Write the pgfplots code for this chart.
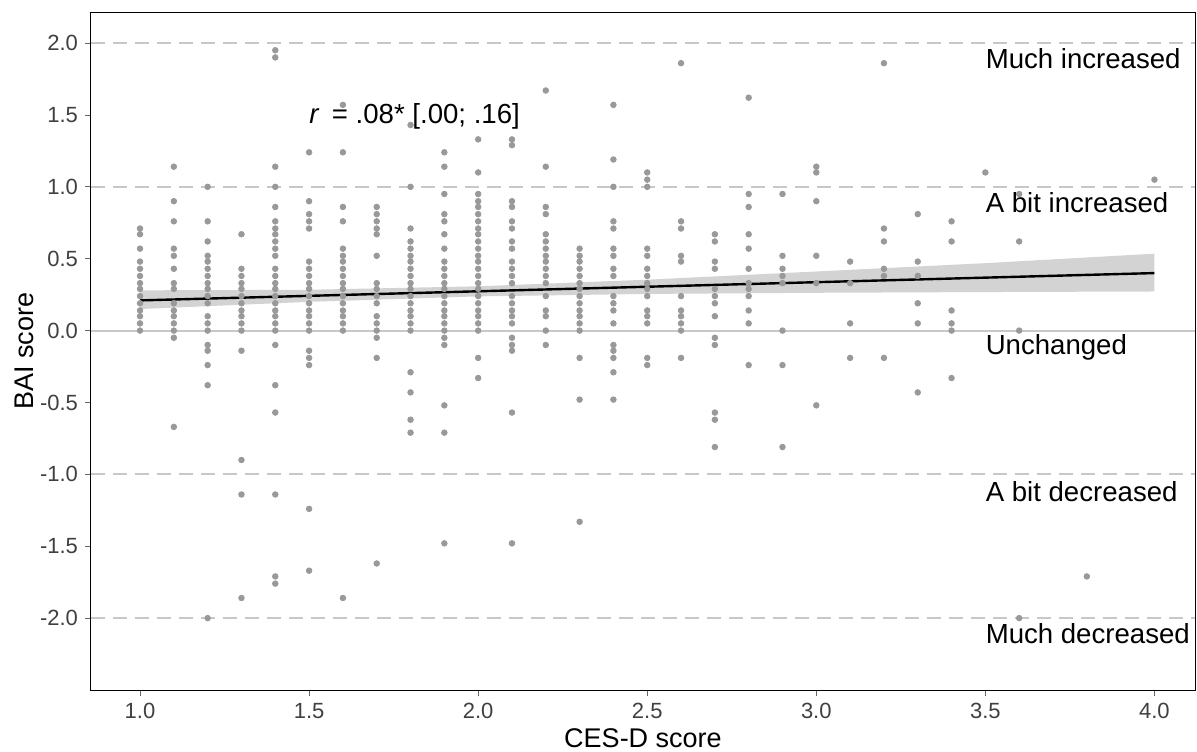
\documentclass[border=0pt]{standalone}
\usepackage{pgfplots}
\pgfplotsset{compat=1.18}
\usepackage{fontspec}
\setmainfont{Liberation Sans}
\definecolor{pt}{RGB}{153,153,153}
\definecolor{band}{RGB}{211,211,211}
\definecolor{refl}{RGB}{200,200,200}
\begin{document}
\begin{tikzpicture}
\useasboundingbox (-45.5pt,-30.5pt) rectangle (553pt,345pt);
\begin{axis}[
  scale only axis,
  width=552pt, height=339pt,
  xmin=0.855, xmax=4.12,
  ymin=-2.5, ymax=2.216,
  xtick={1,1.5,2,2.5,3,3.5,4},
  ytick={-2,-1.5,-1,-0.5,0,0.5,1,1.5,2},
  /pgf/number format/.cd, fixed, fixed zerofill, precision=1, assume math mode=true,
  /pgfplots/.cd,
  tick label style={font=\fontsize{11pt}{13pt}\selectfont, text=black!75},
  tick style={black!60, thin},
  tick align=outside,
  major tick length=3pt,
  xtick pos=bottom, ytick pos=left,
  xlabel={CES-D score},
  ylabel={BAI score},
  label style={font=\fontsize{13.5pt}{15pt}\selectfont},
  xlabel style={at={(axis description cs:0.5,0)}, anchor=north, yshift=-16pt},
  ylabel style={at={(axis description cs:0,0.5)}, anchor=south, yshift=25pt},
  axis line style={black, line width=0.5pt},
  clip=true,
]
% confidence band
\addplot[fill=band, draw=none] coordinates {
  (1.0,0.28) (1.5,0.284) (2.0,0.308) (2.5,0.354) (3.0,0.411) (3.5,0.469) (4.0,0.535)
  (4.0,0.272) (3.5,0.268) (3.0,0.263) (2.5,0.255) (2.0,0.238) (1.5,0.200) (1.0,0.15)
} -- cycle;
% observations
\addplot[only marks, mark=*, mark size=1.4pt, pt, mark options={draw=none, fill=pt}] coordinates {
(1,0) (1,.05) (1,.10) (1,.14) (1,.19) (1,.24) (1,.29) (1,.33) (1,.38) (1,.43) (1,.48) (1,.57) (1,.67) (1,.71)
(1.1,1.14) (1.1,.90) (1.1,.76) (1.1,.57) (1.1,.52) (1.1,.43) (1.1,.33) (1.1,.29) (1.1,.19) (1.1,.14) (1.1,.10) (1.1,.05) (1.1,0) (1.1,-.05) (1.1,-.67)
(1.2,1.00) (1.2,.76) (1.2,.62) (1.2,.52) (1.2,.48) (1.2,.43) (1.2,.38) (1.2,.33) (1.2,.29) (1.2,.24) (1.2,.19) (1.2,.10) (1.2,.05) (1.2,0) (1.2,-.10) (1.2,-.14) (1.2,-.24) (1.2,-.38) (1.2,-2.00)
(1.3,.67) (1.3,.43) (1.3,.38) (1.3,.33) (1.3,.29) (1.3,.24) (1.3,.19) (1.3,.14) (1.3,.10) (1.3,.05) (1.3,0) (1.3,-.14) (1.3,-.90) (1.3,-1.14) (1.3,-1.86)
(1.4,1.95) (1.4,1.90) (1.4,1.14) (1.4,1.00) (1.4,.86) (1.4,.76) (1.4,.71) (1.4,.67) (1.4,.62) (1.4,.57) (1.4,.52) (1.4,.43) (1.4,.38) (1.4,.33) (1.4,.29) (1.4,.24) (1.4,.19) (1.4,.14) (1.4,.10) (1.4,.05) (1.4,0) (1.4,-.10) (1.4,-.38) (1.4,-.57) (1.4,-1.14) (1.4,-1.71) (1.4,-1.76)
(1.5,1.24) (1.5,.90) (1.5,.81) (1.5,.76) (1.5,.71) (1.5,.48) (1.5,.43) (1.5,.38) (1.5,.33) (1.5,.29) (1.5,.24) (1.5,.19) (1.5,.14) (1.5,.10) (1.5,.05) (1.5,0) (1.5,-.14) (1.5,-.19) (1.5,-.24) (1.5,-1.24) (1.5,-1.67)
(1.6,1.57) (1.6,1.24) (1.6,.86) (1.6,.76) (1.6,.57) (1.6,.52) (1.6,.48) (1.6,.43) (1.6,.38) (1.6,.33) (1.6,.29) (1.6,.24) (1.6,.19) (1.6,.14) (1.6,.10) (1.6,.05) (1.6,0) (1.6,-1.86)
(1.7,.86) (1.7,.81) (1.7,.76) (1.7,.71) (1.7,.67) (1.7,.52) (1.7,.33) (1.7,.29) (1.7,.24) (1.7,.19) (1.7,.10) (1.7,.05) (1.7,0) (1.7,-.05) (1.7,-.19) (1.7,-1.62)
(1.8,1.43) (1.8,1.00) (1.8,.71) (1.8,.62) (1.8,.57) (1.8,.52) (1.8,.48) (1.8,.43) (1.8,.38) (1.8,.33) (1.8,.29) (1.8,.24) (1.8,.19) (1.8,.14) (1.8,.10) (1.8,.05) (1.8,0) (1.8,-.29) (1.8,-.43) (1.8,-.62) (1.8,-.71)
(1.9,1.24) (1.9,1.14) (1.9,.95) (1.9,.81) (1.9,.76) (1.9,.67) (1.9,.57) (1.9,.48) (1.9,.43) (1.9,.38) (1.9,.33) (1.9,.29) (1.9,.24) (1.9,.19) (1.9,.14) (1.9,.10) (1.9,.05) (1.9,0) (1.9,-.05) (1.9,-.10) (1.9,-.52) (1.9,-.71) (1.9,-1.48)
(2.0,1.33) (2.0,1.10) (2.0,.95) (2.0,.90) (2.0,.86) (2.0,.81) (2.0,.76) (2.0,.71) (2.0,.67) (2.0,.62) (2.0,.57) (2.0,.52) (2.0,.48) (2.0,.43) (2.0,.38) (2.0,.33) (2.0,.29) (2.0,.24) (2.0,.19) (2.0,.14) (2.0,.10) (2.0,.05) (2.0,0) (2.0,-.19) (2.0,-.33)
(2.1,1.33) (2.1,1.29) (2.1,.90) (2.1,.86) (2.1,.76) (2.1,.71) (2.1,.62) (2.1,.57) (2.1,.48) (2.1,.43) (2.1,.38) (2.1,.33) (2.1,.24) (2.1,.19) (2.1,.14) (2.1,.10) (2.1,.05) (2.1,-.05) (2.1,-.10) (2.1,-.14) (2.1,-.57) (2.1,-1.48)
(2.2,1.67) (2.2,1.14) (2.2,.86) (2.2,.81) (2.2,.67) (2.2,.62) (2.2,.57) (2.2,.52) (2.2,.48) (2.2,.43) (2.2,.38) (2.2,.33) (2.2,.24) (2.2,.14) (2.2,.10) (2.2,0) (2.2,-.10)
(2.3,.57) (2.3,.52) (2.3,.48) (2.3,.43) (2.3,.38) (2.3,.33) (2.3,.29) (2.3,.24) (2.3,.19) (2.3,.14) (2.3,.10) (2.3,.05) (2.3,0) (2.3,-.19) (2.3,-.48) (2.3,-1.33)
(2.4,1.57) (2.4,1.19) (2.4,1.00) (2.4,.76) (2.4,.71) (2.4,.57) (2.4,.52) (2.4,.43) (2.4,.38) (2.4,.24) (2.4,.19) (2.4,.14) (2.4,.05) (2.4,-.10) (2.4,-.14) (2.4,-.19) (2.4,-.29) (2.4,-.48)
(2.5,1.10) (2.5,1.05) (2.5,1.00) (2.5,.57) (2.5,.52) (2.5,.43) (2.5,.38) (2.5,.33) (2.5,.29) (2.5,.24) (2.5,.14) (2.5,.10) (2.5,.05) (2.5,-.19) (2.5,-.24)
(2.6,1.86) (2.6,.76) (2.6,.71) (2.6,.52) (2.6,.48) (2.6,.24) (2.6,.14) (2.6,.10) (2.6,.05) (2.6,0) (2.6,-.19)
(2.7,.67) (2.7,.62) (2.7,.48) (2.7,.43) (2.7,.29) (2.7,.24) (2.7,.19) (2.7,.10) (2.7,-.05) (2.7,-.10) (2.7,-.57) (2.7,-.62) (2.7,-.81)
(2.8,1.62) (2.8,.95) (2.8,.86) (2.8,.67) (2.8,.57) (2.8,.43) (2.8,.33) (2.8,.29) (2.8,.24) (2.8,.14) (2.8,.05) (2.8,-.24)
(2.9,.95) (2.9,.52) (2.9,.43) (2.9,.38) (2.9,.33) (2.9,0) (2.9,-.24) (2.9,-.81)
(3.0,1.14) (3.0,1.10) (3.0,.90) (3.0,.52) (3.0,.33) (3.0,-.52)
(3.1,.48) (3.1,.33) (3.1,.05) (3.1,-.19)
(3.2,1.86) (3.2,.71) (3.2,.62) (3.2,.43) (3.2,.38) (3.2,-.19)
(3.3,.81) (3.3,.48) (3.3,.38) (3.3,.19) (3.3,.05) (3.3,-.43)
(3.4,.76) (3.4,.62) (3.4,.14) (3.4,.05) (3.4,0) (3.4,-.33)
(3.5,1.10)
(3.6,.95) (3.6,.62) (3.6,0) (3.6,-2.00)
(3.8,-1.71)
(4.0,1.05)
};
% reference lines
\addplot[refl, line width=0.9pt, dash pattern=on 7pt off 4pt] coordinates {(0.855,2) (4.12,2)};
\addplot[refl, line width=0.9pt, dash pattern=on 7pt off 4pt] coordinates {(0.855,1) (4.12,1)};
\addplot[refl, line width=1pt] coordinates {(0.855,0) (4.12,0)};
\addplot[refl, line width=0.9pt, dash pattern=on 7pt off 4pt] coordinates {(0.855,-1) (4.12,-1)};
\addplot[refl, line width=0.9pt, dash pattern=on 7pt off 4pt] coordinates {(0.855,-2) (4.12,-2)};
% fitted line
\addplot[black, line width=1.2pt] coordinates {(1.0,0.21) (4.0,0.40)};
% annotations
\begin{scope}[every node/.style={font=\fontsize{13.8pt}{16pt}\selectfont, anchor=west, inner sep=0pt}]
\node at (axis cs:3.5,1.89) {Much increased};
\node at (axis cs:3.5,0.89) {A bit increased};
\node at (axis cs:3.5,-0.12) {Unchanged};
\node at (axis cs:3.5,-1.12) {A bit decreased};
\node at (axis cs:3.5,-2.11) {Much decreased};
\node at (axis cs:1.5,1.49) {\textit{r}\, = .08* [.00; .16]};
\end{scope}
\end{axis}
\end{tikzpicture}
\end{document}
